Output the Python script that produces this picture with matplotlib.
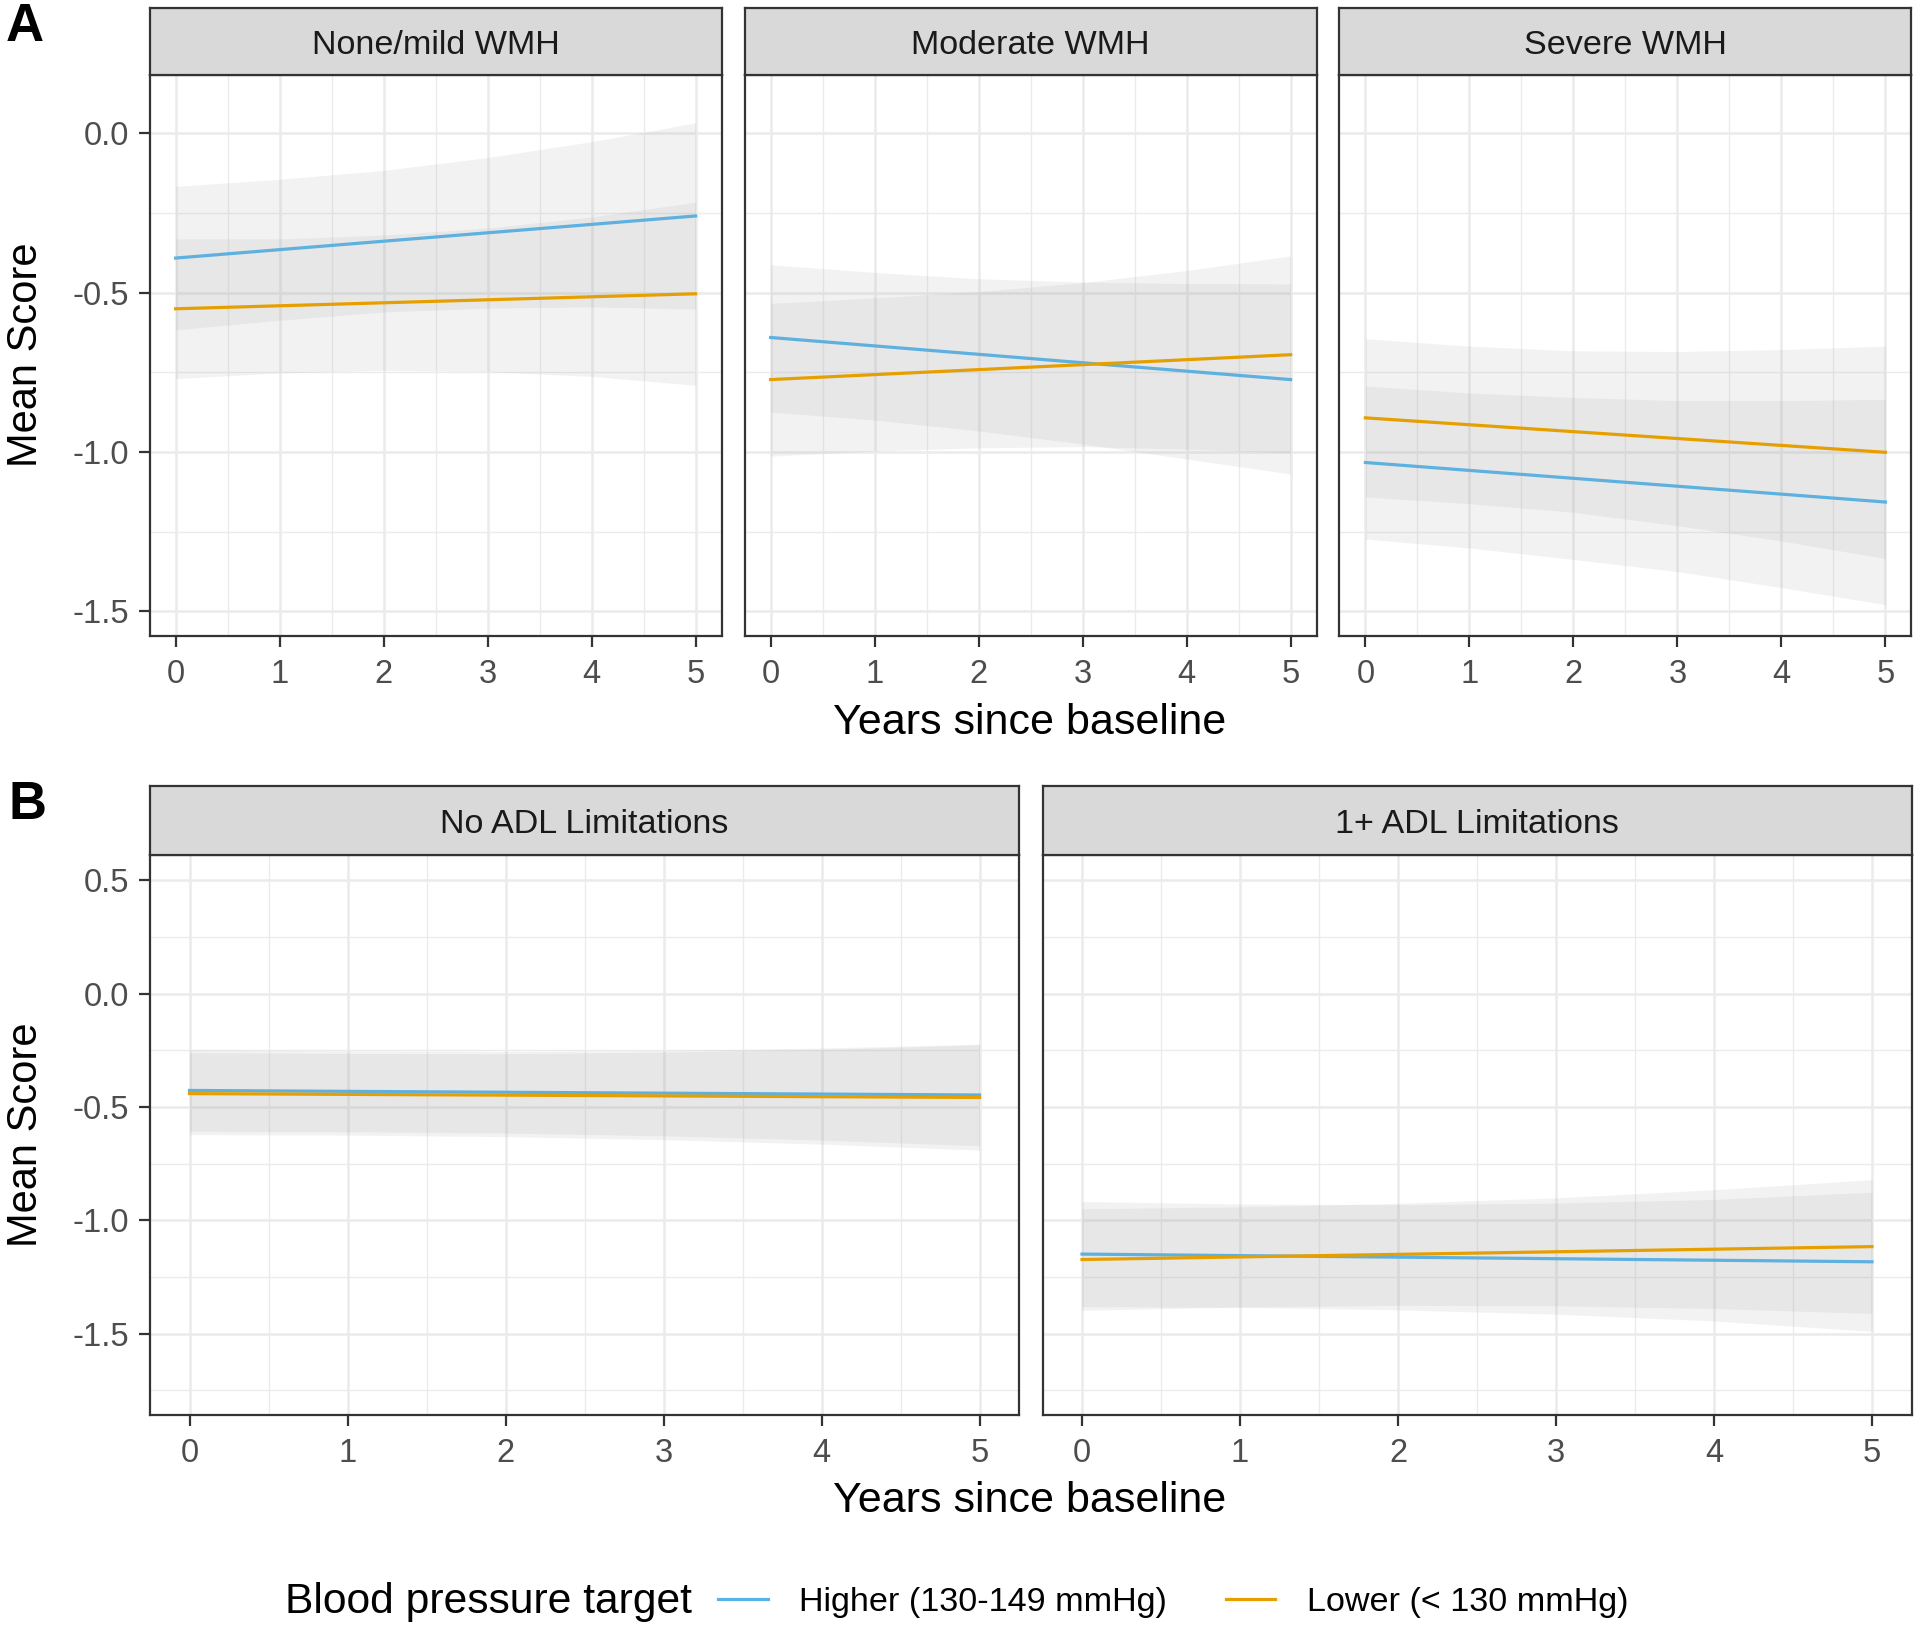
import matplotlib
matplotlib.use("Agg")
import matplotlib.pyplot as plt

plt.rcParams['font.family'] = ['Liberation Sans', 'DejaVu Sans']
plt.rcParams['axes.unicode_minus'] = False

# ---- data ----
years = [0, 5]
band_years = [0, 1, 2, 3, 4, 5]
group_labels = ["Higher (130-149 mmHg)", "Lower (< 130 mmHg)"]
group_colors = ["#56B4E9", "#E69F00"]

# panel A: white matter hyperintensity groups
wmh_panels = ["None/mild WMH", "Moderate WMH", "Severe WMH"]
wmh_higher = [[-0.392, -0.260], [-0.641, -0.773], [-1.033, -1.157]]
wmh_higher_lo = [[-0.617, -0.587, -0.561, -0.549, -0.545, -0.552],
                 [-0.875, -0.900, -0.934, -0.975, -1.022, -1.069],
                 [-1.273, -1.301, -1.337, -1.375, -1.425, -1.479]]
wmh_higher_hi = [[-0.167, -0.145, -0.117, -0.077, -0.027, 0.032],
                 [-0.413, -0.437, -0.457, -0.467, -0.472, -0.473],
                 [-0.793, -0.815, -0.829, -0.839, -0.839, -0.835]]
wmh_lower = [[-0.551, -0.504], [-0.773, -0.695], [-0.893, -1.001]]
wmh_lower_lo = [[-0.770, -0.752, -0.744, -0.748, -0.763, -0.791],
                [-1.013, -0.997, -0.987, -0.983, -0.991, -1.003],
                [-1.141, -1.162, -1.189, -1.231, -1.279, -1.334]]
wmh_lower_hi = [[-0.332, -0.332, -0.320, -0.298, -0.263, -0.217],
                [-0.534, -0.517, -0.497, -0.469, -0.431, -0.385],
                [-0.645, -0.668, -0.683, -0.685, -0.679, -0.668]]

# panel B: ADL limitation groups
adl_panels = ["No ADL Limitations", "1+ ADL Limitations"]
adl_higher = [[-0.427, -0.447], [-1.149, -1.183]]
adl_higher_lo = [[-0.607, -0.609, -0.615, -0.627, -0.646, -0.671],
                 [-1.381, -1.384, -1.395, -1.414, -1.444, -1.490]]
adl_higher_hi = [[-0.247, -0.253, -0.255, -0.251, -0.240, -0.223],
                 [-0.917, -0.928, -0.931, -0.924, -0.908, -0.876]]
adl_lower = [[-0.441, -0.458], [-1.173, -1.116]]
adl_lower_lo = [[-0.622, -0.624, -0.631, -0.644, -0.664, -0.690],
                [-1.397, -1.383, -1.375, -1.377, -1.389, -1.411]]
adl_lower_hi = [[-0.260, -0.264, -0.265, -0.258, -0.246, -0.226],
                [-0.949, -0.941, -0.925, -0.901, -0.865, -0.821]]

W, H = 1920, 1630
fig = plt.figure(figsize=(W / 100, H / 100), dpi=100)
fig.patch.set_facecolor("white")

DARK = "#333333"


def px_box(left, top, right, bottom):
    return [left / W, 1 - bottom / H, (right - left) / W, (bottom - top) / H]


def fmt(v):
    return "%.1f" % v


def make_panel(left, right, top_strip, top, bottom, title, ylim, yticks, yminor, show_y,
               hi_line, hi_lo, hi_hi, lo_line, lo_lo, lo_hi):
    ax = fig.add_axes(px_box(left, top, right, bottom))
    ax.set_xlim(-0.25, 5.25)
    ax.set_ylim(*ylim)
    ax.set_xticks(range(6))
    ax.set_xticks([0.5, 1.5, 2.5, 3.5, 4.5], minor=True)
    ax.set_yticks(yticks)
    ax.set_yticks(yminor, minor=True)
    ax.set_yticklabels([fmt(v) for v in yticks])
    ax.set_axisbelow(True)
    ax.grid(which="major", color="#EBEBEB", lw=1.8)
    ax.grid(which="minor", color="#EBEBEB", lw=1.0)
    for s in ax.spines.values():
        s.set_color(DARK)
        s.set_linewidth(1.6)
    ax.tick_params(which="major", length=7.9, width=1.6, color=DARK,
                   labelsize=23.5, labelcolor="#4D4D4D")
    ax.tick_params(axis="x", pad=9)
    ax.tick_params(axis="y", pad=7)
    ax.tick_params(which="minor", length=0)
    if not show_y:
        ax.tick_params(axis="y", left=False, labelleft=False)

    # same drawing order as ggplot: ribbon, line, ribbon, line
    ax.fill_between(band_years, hi_lo, hi_hi, color="#999999", alpha=0.12, lw=0, zorder=2)
    h1, = ax.plot(years, hi_line, color=group_colors[0], lw=2.3, zorder=3)
    ax.fill_between(band_years, lo_lo, lo_hi, color="#999999", alpha=0.12, lw=0, zorder=4)
    h2, = ax.plot(years, lo_line, color=group_colors[1], lw=2.3, zorder=5)

    sax = fig.add_axes(px_box(left, top_strip, right, top))
    sax.set_facecolor("#D9D9D9")
    sax.set_xticks([])
    sax.set_yticks([])
    for s in sax.spines.values():
        s.set_color(DARK)
        s.set_linewidth(1.6)
    sax.text(0.5, 0.445, title, ha="center", va="center", fontsize=24.6,
             color="#1A1A1A", transform=sax.transAxes)
    return h1, h2


# panel A
a_lefts = [149.6, 744.6, 1339.4]
for i in range(3):
    handles = make_panel(a_lefts[i], a_lefts[i] + 572, 8, 75, 636, wmh_panels[i],
                         (-1.577, 0.182), [-1.5, -1.0, -0.5, 0.0], [-1.25, -0.75, -0.25],
                         i == 0,
                         wmh_higher[i], wmh_higher_lo[i], wmh_higher_hi[i],
                         wmh_lower[i], wmh_lower_lo[i], wmh_lower_hi[i])

# panel B
b_lefts = [150, 1042.5]
for i in range(2):
    make_panel(b_lefts[i], b_lefts[i] + 869, 786, 854.5, 1415, adl_panels[i],
               (-1.859, 0.614), [-1.5, -1.0, -0.5, 0.0, 0.5], [-1.75, -1.25, -0.75, -0.25, 0.25],
               i == 0,
               adl_higher[i], adl_higher_lo[i], adl_higher_hi[i],
               adl_lower[i], adl_lower_lo[i], adl_lower_hi[i])

# titles and labels
fig.text(25 / W, 1 - 27 / H, "A", fontsize=38, fontweight="bold", ha="center", va="center")
fig.text(27 / W, 1 - 805 / H, "B", fontsize=38, fontweight="bold", ha="center", va="center")
fig.text(26 / W, 1 - 355 / H, "Mean Score", fontsize=30, rotation=90, ha="center", va="center")
fig.text(26 / W, 1 - 1135 / H, "Mean Score", fontsize=30, rotation=90, ha="center", va="center")
fig.text(1030 / W, 1 - 723 / H, "Years since baseline", fontsize=31, ha="center", va="center")
fig.text(1030 / W, 1 - 1501 / H, "Years since baseline", fontsize=31, ha="center", va="center")

# legend
fig.text(285 / W, 1 - 1602 / H, "Blood pressure target", fontsize=30.7, ha="left", va="center")
fig.legend(handles, group_labels, loc="center left", bbox_to_anchor=(718 / W, 1 - 1602 / H),
           ncol=2, frameon=False, fontsize=24.6, handlelength=1.45, handletextpad=0.92,
           columnspacing=1.72, borderpad=0, borderaxespad=0)

fig.savefig("out.png", dpi=100)
